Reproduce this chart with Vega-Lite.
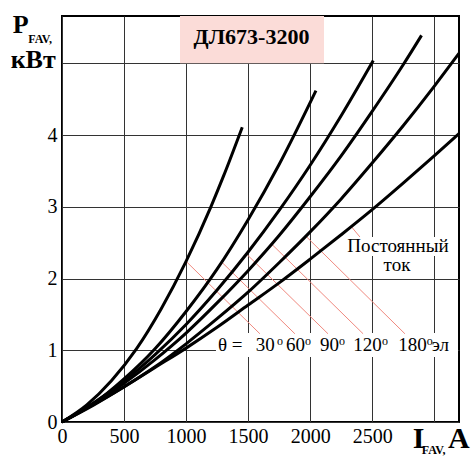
{
  "$schema": "https://vega.github.io/schema/vega-lite/v6.json",
  "width": 397,
  "height": 406,
  "autosize": {"type": "none"},
  "padding": {"left": 62, "top": 16, "right": 14, "bottom": 35},
  "config": {
    "view": {"stroke": "black", "strokeWidth": 2},
    "font": "Liberation Serif"
  },
  "layer": [
    {
      "data": {"values": [
        {"I": 1241, "I2": 3192, "P": 1.24, "P2": 0.906},
        {"I": 2241, "I2": 3184, "P": 2.579, "P2": 2.314}
      ]},
      "mark": {"type": "rect", "color": "white"},
      "encoding": {
        "x": {"field": "I", "type": "quantitative", "scale": {"domain": [0, 3200], "nice": false},
          "axis": {"values": [0, 500, 1000, 1500, 2000, 2500, 3000], "format": "d",
            "labelExpr": "datum.value == 3000 ? '' : datum.label",
            "title": null, "domain": false, "ticks": false, "grid": true, "gridColor": "#333", "gridWidth": 1,
            "labelFont": "Liberation Serif", "labelFontSize": 20, "labelColor": "black", "labelPadding": 4,
            "labelFlush": false, "labelOverlap": false}},
        "x2": {"field": "I2"},
        "y": {"field": "P", "type": "quantitative", "scale": {"domain": [0, 5.66], "nice": false},
          "axis": {"values": [0, 1, 2, 3, 4, 5], "format": "d",
            "labelExpr": "datum.value == 5 ? '' : datum.label",
            "title": null, "domain": false, "ticks": false, "grid": true, "gridColor": "#333", "gridWidth": 1,
            "labelFont": "Liberation Serif", "labelFontSize": 20, "labelColor": "black", "labelPadding": 5,
            "labelFlush": false, "labelOverlap": false}},
        "y2": {"field": "P2"}
      }
    },
    {
      "data": {"values": [
        {"I": 951, "I2": 2112, "P": 5.66, "P2": 5.0}
      ]},
      "mark": {"type": "rect", "color": "#fbdcd8"},
      "encoding": {
        "x": {"field": "I", "type": "quantitative"},
        "x2": {"field": "I2"},
        "y": {"field": "P", "type": "quantitative"},
        "y2": {"field": "P2"}
      }
    },
    {
      "data": {"values": [
        {"I": 1000, "P": 2.24, "I2": 1595, "P2": 1.23},
        {"I": 1287, "P": 2.23, "I2": 1877, "P2": 1.23},
        {"I": 1488, "P": 2.34, "I2": 2144, "P2": 1.23},
        {"I": 1690, "P": 2.48, "I2": 2427, "P2": 1.23},
        {"I": 1966, "P": 2.59, "I2": 2764, "P2": 1.23},
        {"I": 2334, "P": 2.72, "I2": 2401, "P2": 2.58}
      ]},
      "mark": {"type": "rule", "color": "#f08a80", "strokeWidth": 1},
      "encoding": {
        "x": {"field": "I", "type": "quantitative"},
        "x2": {"field": "I2"},
        "y": {"field": "P", "type": "quantitative"},
        "y2": {"field": "P2"}
      }
    },
    {
      "data": {"values": [
        {"curve": "30", "I": 0, "P": 0}, {"curve": "30", "I": 200, "P": 0.24}, {"curve": "30", "I": 400, "P": 0.58},
        {"curve": "30", "I": 600, "P": 1.02}, {"curve": "30", "I": 800, "P": 1.58}, {"curve": "30", "I": 1000, "P": 2.24},
        {"curve": "30", "I": 1200, "P": 3.0}, {"curve": "30", "I": 1300, "P": 3.42}, {"curve": "30", "I": 1453, "P": 4.11},
        {"curve": "60", "I": 0, "P": 0}, {"curve": "60", "I": 250, "P": 0.25}, {"curve": "60", "I": 500, "P": 0.6},
        {"curve": "60", "I": 750, "P": 1.02}, {"curve": "60", "I": 1000, "P": 1.54}, {"curve": "60", "I": 1250, "P": 2.13},
        {"curve": "60", "I": 1500, "P": 2.82}, {"curve": "60", "I": 1750, "P": 3.59}, {"curve": "60", "I": 2047, "P": 4.62},
        {"curve": "90", "I": 0, "P": 0}, {"curve": "90", "I": 250, "P": 0.26}, {"curve": "90", "I": 500, "P": 0.57},
        {"curve": "90", "I": 750, "P": 0.94}, {"curve": "90", "I": 1000, "P": 1.36}, {"curve": "90", "I": 1250, "P": 1.84},
        {"curve": "90", "I": 1500, "P": 2.37}, {"curve": "90", "I": 1750, "P": 2.95}, {"curve": "90", "I": 2000, "P": 3.58},
        {"curve": "90", "I": 2250, "P": 4.27}, {"curve": "90", "I": 2509, "P": 5.04},
        {"curve": "120", "I": 0, "P": 0}, {"curve": "120", "I": 250, "P": 0.25}, {"curve": "120", "I": 500, "P": 0.54},
        {"curve": "120", "I": 750, "P": 0.87}, {"curve": "120", "I": 1000, "P": 1.24}, {"curve": "120", "I": 1250, "P": 1.66},
        {"curve": "120", "I": 1500, "P": 2.11}, {"curve": "120", "I": 1750, "P": 2.6}, {"curve": "120", "I": 2000, "P": 3.14},
        {"curve": "120", "I": 2250, "P": 3.71}, {"curve": "120", "I": 2500, "P": 4.33}, {"curve": "120", "I": 2750, "P": 4.98},
        {"curve": "120", "I": 2898, "P": 5.39},
        {"curve": "180", "I": 0, "P": 0}, {"curve": "180", "I": 250, "P": 0.23}, {"curve": "180", "I": 500, "P": 0.49},
        {"curve": "180", "I": 750, "P": 0.77}, {"curve": "180", "I": 1000, "P": 1.09}, {"curve": "180", "I": 1250, "P": 1.44},
        {"curve": "180", "I": 1500, "P": 1.81}, {"curve": "180", "I": 1750, "P": 2.22}, {"curve": "180", "I": 2000, "P": 2.65},
        {"curve": "180", "I": 2250, "P": 3.11}, {"curve": "180", "I": 2500, "P": 3.61}, {"curve": "180", "I": 2750, "P": 4.13},
        {"curve": "180", "I": 3000, "P": 4.68}, {"curve": "180", "I": 3200, "P": 5.14},
        {"curve": "DC", "I": 0, "P": 0}, {"curve": "DC", "I": 250, "P": 0.24}, {"curve": "DC", "I": 500, "P": 0.49},
        {"curve": "DC", "I": 750, "P": 0.76}, {"curve": "DC", "I": 1000, "P": 1.03}, {"curve": "DC", "I": 1250, "P": 1.32},
        {"curve": "DC", "I": 1500, "P": 1.63}, {"curve": "DC", "I": 1750, "P": 1.94}, {"curve": "DC", "I": 2000, "P": 2.27},
        {"curve": "DC", "I": 2250, "P": 2.61}, {"curve": "DC", "I": 2500, "P": 2.96}, {"curve": "DC", "I": 2750, "P": 3.33},
        {"curve": "DC", "I": 3000, "P": 3.71}, {"curve": "DC", "I": 3200, "P": 4.02}
      ]},
      "mark": {"type": "line", "color": "black", "strokeWidth": 3, "interpolate": "monotone"},
      "encoding": {
        "x": {"field": "I", "type": "quantitative"},
        "y": {"field": "P", "type": "quantitative"},
        "detail": {"field": "curve", "type": "nominal"}
      }
    },
    {
      "data": {"values": [
        {"I": 1257, "P": 0.99, "t": "θ ="},
        {"I": 1561, "P": 0.99, "t": "30"},
        {"I": 1806, "P": 0.99, "t": "60"},
        {"I": 2080, "P": 0.99, "t": "90"},
        {"I": 2348, "P": 0.99, "t": "120"},
        {"I": 2711, "P": 0.99, "t": "180"},
        {"I": 2980, "P": 0.99, "t": "эл"}
      ]},
      "mark": {"type": "text", "font": "Liberation Serif", "fontSize": 19, "align": "left", "baseline": "alphabetic", "color": "black"},
      "encoding": {
        "x": {"field": "I", "type": "quantitative"},
        "y": {"field": "P", "type": "quantitative"},
        "text": {"field": "t"}
      }
    },
    {
      "data": {"values": [
        {"I": 1732, "P": 1.073, "t": "o"},
        {"I": 1959, "P": 1.073, "t": "o"},
        {"I": 2233, "P": 1.073, "t": "o"},
        {"I": 2579, "P": 1.073, "t": "o"},
        {"I": 2941, "P": 1.073, "t": "o"}
      ]},
      "mark": {"type": "text", "font": "Liberation Serif", "fontSize": 12, "align": "left", "baseline": "alphabetic", "color": "black"},
      "encoding": {
        "x": {"field": "I", "type": "quantitative"},
        "y": {"field": "P", "type": "quantitative"},
        "text": {"field": "t"}
      }
    },
    {
      "data": {"values": [
        {"I": 2708, "P": 2.37, "t": "Постоянный"},
        {"I": 2700, "P": 2.11, "t": "ток"}
      ]},
      "mark": {"type": "text", "font": "Liberation Serif", "fontSize": 19, "align": "center", "baseline": "alphabetic", "color": "black"},
      "encoding": {
        "x": {"field": "I", "type": "quantitative"},
        "y": {"field": "P", "type": "quantitative"},
        "text": {"field": "t"}
      }
    },
    {
      "data": {"values": [
        {"I": 1527, "P": 5.27, "t": "ДЛ673-3200"}
      ]},
      "mark": {"type": "text", "font": "Liberation Serif", "fontSize": 22, "fontWeight": "bold", "align": "center", "baseline": "alphabetic", "color": "black"},
      "encoding": {
        "x": {"field": "I", "type": "quantitative"},
        "y": {"field": "P", "type": "quantitative"},
        "text": {"field": "t"}
      }
    },
    {
      "data": {"values": [
        {"I": -397, "P": 5.423, "t": "P"},
        {"I": -414, "P": 4.931, "t": "кВт"}
      ]},
      "mark": {"type": "text", "font": "Liberation Serif", "fontSize": 26, "fontWeight": "bold", "align": "left", "baseline": "alphabetic", "color": "black"},
      "encoding": {
        "x": {"field": "I", "type": "quantitative"},
        "y": {"field": "P", "type": "quantitative"},
        "text": {"field": "t"}
      }
    },
    {
      "data": {"values": [
        {"I": -272, "P": 5.279, "t": "FAV,"},
        {"I": 2900, "P": -0.44, "t": "FAV,"}
      ]},
      "mark": {"type": "text", "font": "Liberation Serif", "fontSize": 12, "fontWeight": "bold", "align": "left", "baseline": "alphabetic", "color": "black"},
      "encoding": {
        "x": {"field": "I", "type": "quantitative"},
        "y": {"field": "P", "type": "quantitative"},
        "text": {"field": "t"}
      }
    },
    {
      "data": {"values": [
        {"I": 2827, "P": -0.367, "t": "I"},
        {"I": 3111, "P": -0.367, "t": "A"}
      ]},
      "mark": {"type": "text", "font": "Liberation Serif", "fontSize": 30, "fontWeight": "bold", "align": "left", "baseline": "alphabetic", "color": "black"},
      "encoding": {
        "x": {"field": "I", "type": "quantitative"},
        "y": {"field": "P", "type": "quantitative"},
        "text": {"field": "t"}
      }
    }
  ]
}
